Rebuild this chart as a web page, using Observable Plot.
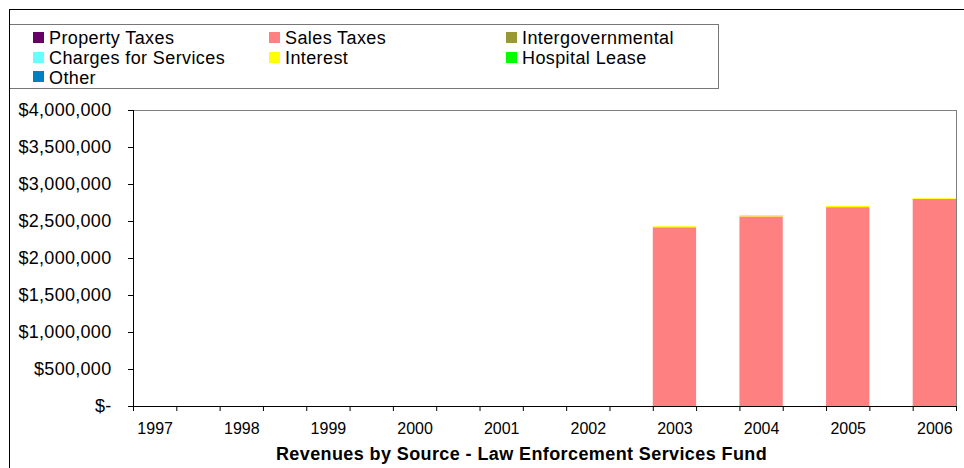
<!DOCTYPE html>
<html>
<head>
<meta charset="utf-8">
<script src="https://cdn.jsdelivr.net/npm/d3@7"></script>
<script src="https://cdn.jsdelivr.net/npm/@observablehq/plot@0.6"></script>
<style>
  body { margin: 0; background: #fff; font-family: "Liberation Sans", Arial, sans-serif; }
  #wrap { position: relative; width: 964px; height: 468px; overflow: hidden; background: #fff; }
  #wrap svg { position: absolute; left: 0; top: 0; }
  #outer { position: absolute; left: 9px; top: 9px; width: 970px; height: 480px; border-top: 1px solid #000; border-left: 1px solid #000; pointer-events: none; }
  #legend { position: absolute; left: 9px; top: 24px; width: 708px; height: 63px; border: 1px solid #777; background: #fff; }
  .item { position: absolute; font-size: 18px; line-height: 20px; letter-spacing: 0.4px; white-space: nowrap; color: #000; }
  .sw { position: absolute; width: 11px; height: 11px; }
  .ylab text { letter-spacing: 0.3px; }
  .ttl text { letter-spacing: 0.4px; }
</style>
</head>
<body>
<div id="wrap">
  <div id="legend"></div>
  <div id="outer"></div>
</div>
<script>
// ---- data ----
const years = [1997, 1998, 1999, 2000, 2001, 2002, 2003, 2004, 2005, 2006];
const propertyTaxes      = [0, 0, 0, 0, 0, 0, 0, 0, 0, 0];
const salesTaxes         = [0, 0, 0, 0, 0, 0, 2415000, 2562000, 2687000, 2797000];
const intergovernmental  = [0, 0, 0, 0, 0, 0, 0, 0, 0, 0];
const chargesForServices = [0, 0, 0, 0, 0, 0, 0, 0, 0, 0];
const interest           = [0, 0, 0, 0, 0, 0, 14000, 19000, 17000, 10000];
const hospitalLease      = [0, 0, 0, 0, 0, 0, 0, 0, 0, 0];
const other              = [0, 0, 0, 0, 0, 0, 0, 0, 0, 0];
const sources = ["Property Taxes", "Sales Taxes", "Intergovernmental", "Charges for Services", "Interest", "Hospital Lease", "Other"];
const colors  = ["#660066", "#FF8080", "#999933", "#66FFFF", "#FFFF00", "#00FF00", "#0080C0"];
const yTicks = [0, 500000, 1000000, 1500000, 2000000, 2500000, 3000000, 3500000, 4000000];
const title = "Revenues by Source - Law Enforcement Services Fund";

const series = [propertyTaxes, salesTaxes, intergovernmental, chargesForServices, interest, hospitalLease, other];
const rows = [];
series.forEach((vals, s) => vals.forEach((v, i) => { if (v > 0) rows.push({year: years[i], source: sources[s], value: v}); }));

// ---- layout ----
const W = 964, H = 468, mL = 133, mR = 8, mT = 110, mB = 62;
const bw = d3.scaleBand().domain(years).range([mL, W - mR]).paddingInner(0.5).paddingOuter(0).bandwidth();
const fmt = d => d === 0 ? "$-" : "$" + d3.format(",")(d);

const chart = Plot.plot({
  width: W, height: H,
  marginLeft: mL, marginRight: mR, marginTop: mT, marginBottom: mB,
  style: { fontFamily: "'Liberation Sans', Arial, sans-serif", fontSize: "16px", color: "#000", background: "transparent", overflow: "visible" },
  x: { type: "band", domain: years, paddingInner: 0.5, paddingOuter: 0, round: false, label: null },
  y: { domain: [0, 4000000], label: null },
  color: { domain: sources, range: colors },
  marks: [
    Plot.frame({ stroke: "#808080" }),
    Plot.barY(rows, Plot.stackY({ x: "year", y: "value", fill: "source", order: sources })),
    Plot.ruleY([0], { stroke: "#000" }),
    Plot.ruleX([years[0]], { dx: -bw / 2, stroke: "#000" }),
    Plot.ruleX(years, { x: d => d, y1: 0, y2: 0, insetBottom: -5, dx: -bw / 2, stroke: "#000" }),
    Plot.ruleX(years, { x: d => d, y1: 0, y2: 0, insetBottom: -5, dx: bw / 2, stroke: "#000" }),
    Plot.axisX({ tickSize: 0, tickPadding: 16, fontSize: 16, tickFormat: d => String(d), label: null }),
    Plot.axisY({ ticks: yTicks, tickSize: 5, tickPadding: 17, tickFormat: fmt, fontSize: 18, label: null, className: "ylab" }),
    Plot.text([title], { frameAnchor: "bottom", lineAnchor: "middle", dy: 48, dx: -23.5, fontWeight: "bold", fontSize: 18, className: "ttl" })
  ]
});
const wrap = document.getElementById("wrap");
wrap.insertBefore(chart, wrap.firstChild);

// ---- legend (HTML) ----
const legend = document.getElementById("legend");
const colX = [23, 259, 496];
const rowY = [3, 23, 42.5];
sources.forEach((s, i) => {
  const c = i % 3, r = Math.floor(i / 3);
  const sw = document.createElement("div");
  sw.className = "sw";
  sw.style.left = colX[c] + "px";
  sw.style.top = (rowY[r] + 3.5) + "px";
  sw.style.background = colors[i];
  legend.appendChild(sw);
  const t = document.createElement("div");
  t.className = "item";
  t.style.left = (colX[c] + 16) + "px";
  t.style.top = rowY[r] + "px";
  t.textContent = s;
  legend.appendChild(t);
});
</script>
</body>
</html>
